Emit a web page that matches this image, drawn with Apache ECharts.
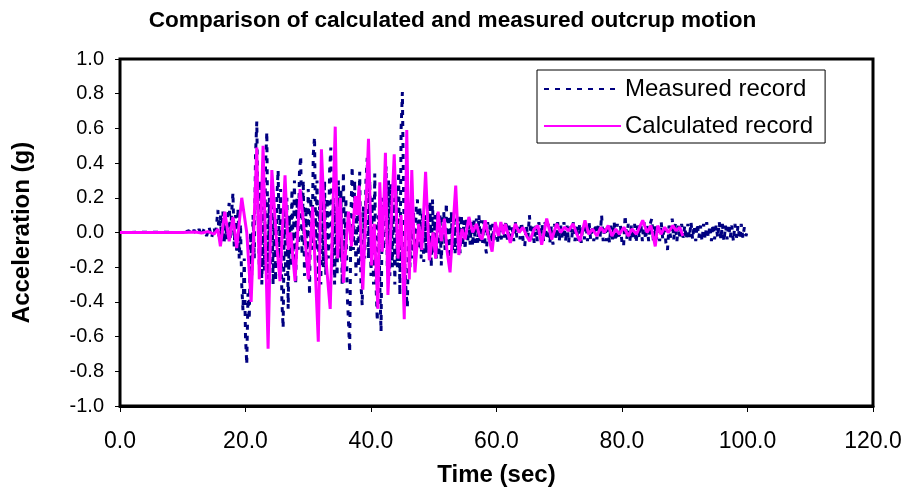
<!DOCTYPE html>
<html>
<head>
<meta charset="utf-8">
<script src="https://cdn.jsdelivr.net/npm/echarts@6/dist/echarts.min.js"></script>
<style>html,body{margin:0;padding:0;background:#fff}#c{width:905px;height:492px}</style>
</head>
<body>
<div id="c"></div>
<script>
// ---- Data (time in s, acceleration in g) ----
const titleText = 'Comparison of calculated and measured outcrup motion';
const xName = 'Time (sec)';
const yName = 'Acceleration (g)';
const seriesNames = ['Measured record', 'Calculated record'];

const measured = [
[0,0],[5,0.002],[10,0],[11,0.01],[11.4,-0.01],[11.8,0.015],[12.2,-0.01],[12.6,0.02],[13,-0.02],[13.4,0.02],[13.8,-0.02],[14.2,0.03],[14.6,-0.03],
[15,0.03],[15.2,-0.02],[15.4,0.05],[15.6,0.13],[15.8,-0.04],[16,0.1],[16.2,-0.05],[16.4,0.12],[16.6,-0.06],[16.8,0.08],[17,-0.04],[17.2,0.1],[17.4,0.17],[17.6,-0.03],[17.8,0.12],[18,0.23],[18.2,-0.08],[18.4,0.1],[18.6,-0.12],[18.8,0.14],[19,-0.15],[19.2,0.05],[19.4,-0.3],[19.6,-0.45],[19.8,-0.15],
[20,-0.6],[20.2,-0.76],[20.4,-0.35],[20.6,-0.5],[20.8,0],[21,-0.25],[21.2,0.1],[21.4,-0.15],[21.6,0.45],[21.8,0.64],[22,0.1],[22.2,-0.2],[22.4,0.3],[22.6,-0.3],[22.8,0.15],[23,-0.22],[23.2,0.4],[23.4,0.58],[23.6,-0.27],[23.8,0.2],[24,-0.2],[24.2,0.25],[24.4,-0.3],[24.6,0.1],[24.8,-0.28],
[25,0.2],[25.2,0.36],[25.4,-0.15],[25.6,0.25],[25.8,-0.4],[26,-0.55],[26.2,0.15],[26.4,-0.25],[26.6,0.2],[26.8,-0.44],[27,0.1],[27.2,-0.2],[27.4,0.25],[27.6,-0.15],[27.8,0.3],[28,-0.3],[28.2,0.2],[28.4,-0.1],[28.6,0.35],[28.8,0.44],[29,-0.13],[29.2,0.3],[29.4,-0.25],[29.6,0.15],[29.8,-0.2],
[30,0.25],[30.2,-0.36],[30.4,0.2],[30.6,-0.1],[30.8,0.45],[31,0.55],[31.2,-0.1],[31.4,0.3],[31.6,-0.28],[31.8,0.15],[32,-0.3],[32.2,0.25],[32.4,-0.2],[32.6,0.3],[32.8,-0.25],[33,0.2],[33.2,-0.15],[33.4,0.35],[33.6,0.49],[33.8,-0.2],[34,0.2],[34.2,-0.3],[34.4,0.15],[34.6,-0.25],[34.8,0.3],
[35,-0.15],[35.2,0.25],[35.4,-0.3],[35.6,0.35],[35.8,-0.2],[36,0.2],[36.2,-0.35],[36.4,-0.5],[36.6,-0.69],[36.8,0.1],[37,0.38],[37.2,-0.1],[37.4,0.3],[37.6,-0.25],[37.8,0.2],[38,-0.2],[38.2,0.35],[38.4,-0.3],[38.6,-0.42],[38.8,0.15],[39,-0.15],[39.2,0.3],[39.4,0.43],[39.6,-0.15],[39.8,0.3],
[40,-0.25],[40.2,0.2],[40.4,-0.3],[40.6,0.34],[40.8,-0.3],[41,-0.51],[41.2,0.1],[41.4,-0.3],[41.6,-0.57],[41.8,0.2],[42,-0.1],[42.2,0.25],[42.4,0.38],[42.6,-0.2],[42.8,0.3],[43,-0.25],[43.2,0.28],[43.4,-0.2],[43.6,0.2],[43.8,-0.3],[44,0.25],[44.2,-0.2],[44.4,0.35],[44.6,-0.36],[44.8,0.6],
[45,0.81],[45.2,0.2],[45.4,-0.2],[45.6,-0.35],[45.8,-0.43],[46,0.1],[46.2,-0.2],[46.4,0.15],[46.6,-0.15],[46.8,0.12],[47,-0.18],[47.2,0.15],[47.4,0.19],[47.6,-0.1],[47.8,0.15],[48,-0.15],[48.2,0.12],[48.4,-0.17],[48.6,0.1],[48.8,-0.12],[49,0.16],[49.2,-0.1],[49.4,0.18],[49.6,-0.2],[49.8,0.19],
[50,-0.12],[50.2,0.1],[50.4,-0.15],[50.6,0.12],[50.8,-0.14],[51,0.1],[51.2,-0.19],[51.4,0.08],[51.6,0.12],[51.8,-0.1],[52,0.17],[52.2,-0.12],[52.4,0.1],[52.6,-0.15],[52.8,0.12],[53,-0.1],[53.2,0.1],[53.4,-0.12],[53.6,0.08],[53.8,-0.1],[54,0.09],[54.2,-0.12],[54.4,0.1],[54.6,-0.08],[54.8,0.07],
[55,-0.1],[55.2,0.08],[55.4,-0.06],[55.6,0.08],[55.8,-0.07],[56,0.06],[56.2,-0.08],[56.4,0.07],[56.6,-0.06],[56.8,0.08],[57,-0.06],[57.2,0.1],[57.4,-0.05],[57.6,0.07],[57.8,-0.06],[58,0.07],[58.2,-0.08],[58.4,-0.12],[58.6,0.06],[58.8,-0.05],[59,0.06],[59.2,-0.06],[59.4,0.05],[59.6,-0.05],[59.8,0.06],
[60,0.05],[60.25,-0.06],[60.5,0.03],[60.75,-0.04],[61,0.06],[61.25,-0.03],[61.5,0.07],[61.75,-0.05],[62,0.04],[62.25,-0.06],[62.5,0.03],[62.75,-0.05],[63,0.06],[63.25,-0.03],[63.5,0.05],[63.75,-0.04],[64,0.06],[64.25,-0.05],[64.5,-0.08],[64.75,0.04],[65,-0.03],[65.25,0.1],[65.5,-0.04],[65.75,0.05],
[66,-0.06],[66.25,0.04],[66.5,-0.05],[66.75,0.06],[67,-0.03],[67.25,0.05],[67.5,-0.05],[67.75,0.06],[68,-0.04],[68.25,0.05],[68.5,-0.06],[68.75,0.04],[69,-0.07],[69.25,0.05],[69.5,-0.04],[69.75,0.06],[70,-0.05],[70.25,0.04],[70.5,-0.04],[70.75,0.06],[71,-0.05],[71.25,0.04],[71.5,-0.06],[71.75,0.05],
[72,-0.03],[72.25,0.06],[72.5,-0.05],[72.75,0.04],[73,-0.05],[73.25,0.05],[73.5,-0.06],[73.75,0.04],[74,-0.04],[74.25,0.05],[74.5,-0.05],[74.75,0.06],[75,-0.04],[75.25,0.04],[75.5,-0.05],[75.75,0.05],[76,-0.04],[76.25,0.05],[76.5,-0.03],[76.75,0.1],[77,-0.05],[77.25,0.04],[77.5,-0.05],[77.75,0.05],
[78,-0.06],[78.25,0.04],[78.5,-0.04],[78.75,0.06],[79,-0.05],[79.25,0.05],[79.5,-0.04],[79.75,0.04],[80,-0.06],[80.25,-0.08],[80.5,0.1],[80.75,-0.04],[81,0.05],[81.25,-0.05],[81.5,0.04],[81.75,-0.04],[82,0.05],[82.25,-0.06],[82.5,0.04],[82.75,-0.03],[83,0.05],[83.25,-0.05],[83.5,0.06],[83.75,-0.04],
[84,0.04],[84.25,-0.05],[84.5,0.05],[84.75,0.08],[85,-0.05],[85.25,0.04],[85.5,-0.04],[85.75,0.05],[86,-0.05],[86.25,0.06],[86.5,-0.04],[86.75,0.04],[87,-0.06],[87.25,-0.1],[87.5,0.04],[87.75,-0.03],[88,0.08],[88.25,-0.04],[88.5,0.05],[88.75,-0.05],[89,0.04],[89.25,-0.04],[89.5,0.05],[89.75,-0.03],
[90,0.04],[90.25,-0.04],[90.5,0.05],[90.75,-0.03],[91,0.06],[91.25,-0.04],[91.5,0.04],[91.75,-0.05],[92,0.05],[92.25,-0.03],[92.5,0.04],[92.75,-0.05],[93,0.05],[93.25,-0.04],[93.5,0.06],[93.75,-0.03],[94,0.04],[94.25,-0.05],[94.5,0.05],[94.75,-0.04],[95,0.04],[95.25,-0.03],[95.5,0.06],[95.75,-0.04],
[96,0.05],[96.25,-0.05],[96.5,0.04],[96.75,-0.04],[97,0.05],[97.25,-0.03],[97.5,0.04],[97.75,-0.05],[98,0.05],[98.25,-0.03],[98.5,0.04],[98.75,-0.04],[99,0.05],[99.25,-0.03],[99.5,0.03],[99.75,-0.02],[100,0.01]
];

const calculated = [
[0,0],[10,0],[12,0.003],[13,-0.003],[14,0.005],[15,-0.01],[15.6,0.02],[16,-0.08],[16.7,0.12],[17.4,-0.05],[18,0.09],[18.6,-0.09],[19.4,0.2],[20.2,0],[20.9,-0.4],[21.8,0.49],[22.2,-0.27],[22.8,0.5],[23.6,-0.67],[24.2,0.36],[25,-0.08],[25.5,-0.28],[26.3,0.33],[26.8,-0.1],[27.2,0],[27.9,-0.28],[28.7,0.25],
[29.5,-0.04],[30,-0.27],[30.7,0.15],[31.6,-0.63],[32.1,0.48],[32.9,-0.19],[33.5,-0.44],[34.3,0.61],[34.7,-0.15],[35.1,0.2],[35.6,-0.29],[36.4,0.12],[36.9,-0.08],[37.5,0.21],[37.8,0.1],[38.1,0.27],[38.7,-0.33],[39.6,0.54],[40.1,-0.19],[40.5,0.05],[41.1,-0.44],[41.4,0.29],[41.8,-0.11],[42.3,0.46],[42.7,-0.36],
[43.7,0.45],[44.3,-0.15],[44.8,0.1],[45.3,-0.5],[45.7,0.59],[46.1,-0.27],[46.5,0.36],[47,-0.23],[47.6,0.05],[48.1,-0.1],[48.7,0.35],[49.3,-0.16],[49.9,0],[50.3,-0.15],[50.7,0.12],[51.2,-0.05],[51.7,0.08],[52.1,-0.1],[52.6,-0.23],[53.5,0.27],[54,-0.13],[54.5,0.02],[55,-0.04],[55.6,0.09],[56.2,0],[56.8,0.05],
[57.3,-0.02],[57.7,-0.04],[58.2,0.07],[58.7,-0.02],[59.3,-0.11],[59.8,0.06],[60.3,-0.02],[60.7,0.06],[61.1,-0.01],[61.4,0.05],[62.2,-0.06],[63,0.05],[63.6,0],[64.2,0.03],[64.8,-0.02],[65.3,-0.05],[66,0.02],[66.6,0.04],[67.2,-0.07],[68,0.08],[68.8,-0.04],[69.6,0.05],[70.2,0],[70.8,0.03],[71.5,0.01],[72.2,0.05],
[72.8,-0.01],[73.3,-0.05],[74.1,0.07],[74.7,-0.01],[75.3,0.02],[76,-0.02],[76.6,0.03],[77.2,0],[77.8,0.04],[78.4,-0.02],[79,0.02],[79.6,-0.01],[80.3,0.03],[81,-0.02],[81.6,0.02],[82.3,-0.01],[83.3,0.07],[84,0],[84.6,0.04],[85.3,-0.08],[85.7,0.04],[86.2,-0.01],[86.8,0.03],[87.4,0],[88.1,0.04],[88.6,0.01],[89.2,0.03],[89.7,-0.02]
];

const xTicks = {min: 0, max: 120, step: 20};
const yTicks = {min: -1, max: 1, step: 0.2};

const chart = echarts.init(document.getElementById('c'), null, {renderer: 'canvas'});
const FONT = '"Liberation Sans", Arial, sans-serif';
chart.setOption({
  animation: false,
  backgroundColor: '#fff',
  title: {
    text: titleText, left: 'center', top: 4,
    textStyle: {fontFamily: FONT, fontSize: 22.6, fontWeight: 'bold', color: '#000'}
  },
  grid: {left: 120, right: 32, top: 59, bottom: 84, show: true, borderColor: '#000', borderWidth: 3, backgroundColor: 'transparent'},
  legend: {
    orient: 'vertical', left: 537, top: 70,
    padding: [5, 12, 3, 6], itemGap: 9,
    borderColor: '#000', borderWidth: 1,
    itemWidth: 77, itemHeight: 14,
    itemStyle: {opacity: 0},
    textStyle: {fontFamily: FONT, fontSize: 24, lineHeight: 28, color: '#000', padding: [0, 0, 0, -1]},
    data: seriesNames
  },
  xAxis: {
    type: 'value', min: xTicks.min, max: xTicks.max, interval: xTicks.step,
    name: xName, nameLocation: 'middle', nameGap: 57,
    nameTextStyle: {fontFamily: FONT, fontSize: 24, fontWeight: 'bold', color: '#000'},
    axisLine: {show: true, onZero: false, lineStyle: {color: '#000', width: 3}},
    axisTick: {show: true, inside: false, length: 6, lineStyle: {color: '#000', width: 1}},
    axisLabel: {fontFamily: FONT, fontSize: 23, color: '#000', margin: 24, formatter: v => v.toFixed(1)},
    splitLine: {show: false}
  },
  yAxis: {
    type: 'value', min: yTicks.min, max: yTicks.max, interval: yTicks.step,
    name: yName, nameLocation: 'middle', nameGap: 86, nameRotate: 90,
    nameTextStyle: {fontFamily: FONT, fontSize: 24, fontWeight: 'bold', color: '#000'},
    axisLine: {show: true, onZero: false, lineStyle: {color: '#000', width: 2}},
    axisTick: {show: true, inside: false, length: 5, lineStyle: {color: '#000', width: 1}},
    axisLabel: {fontFamily: FONT, fontSize: 20, color: '#000', margin: 16, formatter: v => v.toFixed(1)},
    splitLine: {show: false}
  },
  series: [
    {
      name: seriesNames[0], type: 'line', data: measured, showSymbol: false, symbol: 'none',
      lineStyle: {color: '#000080', width: 3, type: [5, 6]}, itemStyle: {color: '#000080'}, z: 2
    },
    {
      name: seriesNames[1], type: 'line', data: calculated, showSymbol: false, symbol: 'none',
      lineStyle: {color: '#FF00FF', width: 3}, itemStyle: {color: '#FF00FF'}, z: 3
    }
  ]
});
</script>
</body>
</html>
